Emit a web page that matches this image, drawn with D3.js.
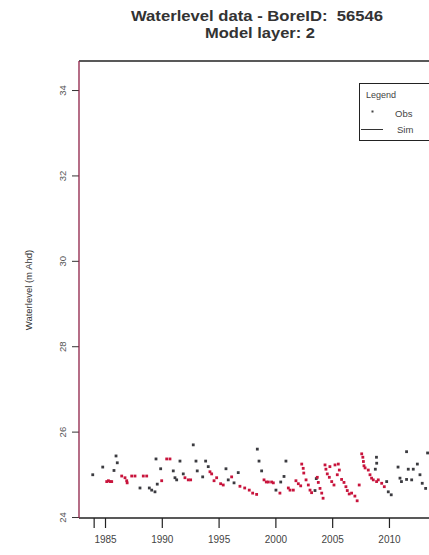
<!DOCTYPE html>
<html>
<head>
<meta charset="utf-8">
<script src="https://cdn.jsdelivr.net/npm/d3@7"></script>
<style>
  html, body { margin: 0; padding: 0; background: #fff; }
  svg { display: block; }
  text { font-family: "Liberation Sans", Arial, sans-serif; fill: #333; }
</style>
</head>
<body>
<svg id="chart" width="429" height="555"></svg>
<script>
// ---- data ----
const titleLines = ["Waterlevel data - BoreID:  56546", "Model layer: 2"];
const yLabel = "Waterlevel (m Ahd)";
const xTickValues = [1984, 1985, 1990, 1995, 2000, 2005, 2010];
const xTickLabels = ["", "1985", "1990", "1995", "2000", "2005", "2010"];
const yTickValues = [24, 26, 28, 30, 32, 34];
const legendTitle = "Legend";
const legendItems = ["Obs", "Sim"];

// observed points drawn dark (isolated readings) : [year, level]
const obsDark = [
  [1983.92, 24.99], [1984.80, 25.17], [1985.79, 25.09], [1985.97, 25.43], [1986.08, 25.27],
  [1988.08, 24.68], [1988.90, 24.68], [1989.11, 24.63], [1989.40, 24.59], [1989.49, 25.36],
  [1989.60, 24.77], [1989.90, 25.13], [1991.01, 25.08], [1991.16, 24.92], [1991.31, 24.87],
  [1991.60, 25.31], [1991.89, 25.01], [1992.77, 25.69], [1993.01, 25.31], [1993.12, 25.08],
  [1993.60, 24.94], [1993.86, 25.31], [1994.09, 25.18], [1995.65, 25.13], [1995.85, 24.87],
  [1996.36, 24.80], [1996.73, 25.04], [1998.41, 25.59], [1998.56, 25.31], [1998.79, 25.08],
  [2000.05, 24.63], [2000.47, 24.82], [2000.76, 24.95], [2000.93, 25.31], [2003.49, 24.62],
  [2003.60, 24.90], [2008.80, 25.12], [2008.90, 25.40], [2008.92, 25.26], [2009.80, 24.83],
  [2009.94, 24.59], [2010.20, 24.52], [2010.80, 25.17], [2010.97, 24.91], [2011.10, 24.83],
  [2011.55, 25.53], [2011.55, 24.88], [2011.70, 25.12], [2012.00, 24.87], [2012.14, 25.12],
  [2012.50, 25.24], [2012.73, 24.99], [2012.93, 24.79], [2013.23, 24.67], [2013.40, 25.50]
];
// observed points drawn red (dense runs of readings) : [year, level]
const obsRed = [
  [1985.15, 24.83], [1985.30, 24.85], [1985.45, 24.83], [1985.59, 24.83],
  [1986.47, 24.96], [1986.76, 24.92], [1986.91, 24.85], [1986.95, 24.80],
  [1987.35, 24.96], [1987.64, 24.96], [1988.37, 24.96], [1988.67, 24.96], [1989.99, 24.85],
  [1990.43, 25.36], [1990.72, 25.36], [1992.04, 24.92], [1992.33, 24.87], [1992.54, 24.87],
  [1994.24, 25.06], [1994.39, 25.01], [1994.60, 24.85], [1994.83, 24.92],
  [1995.18, 24.78], [1995.41, 24.75], [1996.15, 24.94],
  [1996.88, 24.72], [1997.30, 24.68], [1997.70, 24.63], [1998.00, 24.56], [1998.35, 24.53],
  [1999.00, 24.87], [1999.20, 24.82], [1999.38, 24.82], [1999.67, 24.82], [1999.82, 24.80],
  [2000.40, 24.56], [2001.14, 24.68], [2001.29, 24.63], [2001.58, 24.63],
  [2001.81, 24.85], [2002.02, 24.78], [2002.23, 24.73],
  [2002.32, 25.24], [2002.45, 25.14], [2002.50, 25.03], [2002.70, 24.87], [2002.90, 24.75],
  [2003.05, 24.63], [2003.19, 24.57],
  [2003.69, 24.93], [2003.78, 24.81], [2003.93, 24.67], [2004.08, 24.56], [2004.20, 24.44],
  [2004.37, 25.22], [2004.45, 25.12], [2004.57, 25.01], [2004.75, 24.93], [2004.80, 25.18],
  [2004.96, 24.83], [2005.16, 24.75], [2005.25, 25.22], [2005.45, 24.99], [2005.54, 25.24],
  [2005.63, 25.10], [2005.83, 24.88], [2006.04, 24.81], [2006.21, 24.71], [2006.33, 24.62],
  [2006.50, 24.54], [2006.71, 24.56], [2007.00, 24.49], [2007.20, 24.38], [2007.38, 24.75],
  [2007.60, 25.48], [2007.70, 25.40], [2007.75, 25.30], [2007.80, 25.20], [2007.90, 25.15],
  [2008.18, 25.10], [2008.33, 24.99], [2008.47, 24.91], [2008.62, 24.87], [2008.91, 24.83],
  [2009.06, 24.87], [2009.36, 24.79], [2009.59, 24.71]
];

// ---- drawing ----
const svg = d3.select("#chart");
const x = d3.scaleLinear().domain([1982.71, 2014.67]).range([79, 442]);
const y = d3.scaleLinear().domain([23.977, 34.68]).range([518, 61]);

// title
svg.append("text").attr("x", 257).attr("y", 21).attr("text-anchor", "middle")
  .attr("textLength", 252).attr("lengthAdjust", "spacingAndGlyphs")
  .style("white-space", "pre")
  .style("font-weight", "bold").style("font-size", "14.5px").style("fill", "#333")
  .text(titleLines[0]);
svg.append("text").attr("x", 260).attr("y", 38).attr("text-anchor", "middle")
  .attr("textLength", 110).attr("lengthAdjust", "spacingAndGlyphs")
  .style("font-weight", "bold").style("font-size", "14.5px").style("fill", "#333")
  .text(titleLines[1]);

// x axis
const xAxis = svg.append("g").attr("transform", "translate(0,518)")
  .call(d3.axisBottom(x).tickValues(xTickValues)
    .tickFormat((d, i) => xTickLabels[i]).tickSize(10).tickPadding(8));
xAxis.select(".domain").remove();
xAxis.selectAll("line").attr("stroke", "#222").attr("stroke-width", 1.2);
xAxis.selectAll("text").style("font-size", "10px").style("fill", "#444")
  .style("font-family", "'Liberation Sans', Arial, sans-serif");

// y axis
const yAxis = svg.append("g").attr("transform", "translate(79,0)")
  .call(d3.axisLeft(y).tickValues(yTickValues).tickSize(7).tickPadding(0));
yAxis.select(".domain").remove();
yAxis.selectAll("line").attr("stroke", "#333").attr("stroke-width", 1);
yAxis.selectAll("text")
  .attr("x", 0).attr("dy", 0).attr("text-anchor", "middle")
  .attr("transform", "translate(-13,0) rotate(-90)")
  .style("font-size", "9.5px").style("fill", "#555")
  .style("font-family", "'Liberation Sans Narrow', 'Liberation Sans', Arial, sans-serif");

// y label
svg.append("text").attr("transform", "translate(32,290) rotate(-90)")
  .attr("text-anchor", "middle").style("font-size", "9.5px").style("fill", "#333")
  .style("font-family", "'Liberation Sans Narrow', 'Liberation Sans', Arial, sans-serif")
  .text(yLabel);

// points
const sz = 2.8;
svg.append("g").selectAll("rect").data(obsDark).join("rect")
  .attr("x", d => x(d[0]) - sz / 2).attr("y", d => y(d[1]) - sz / 2)
  .attr("width", sz).attr("height", sz).attr("fill", "#3b3b40");
svg.append("g").selectAll("rect").data(obsRed).join("rect")
  .attr("x", d => x(d[0]) - sz / 2).attr("y", d => y(d[1]) - sz / 2)
  .attr("width", sz).attr("height", sz).attr("fill", "#c8143c");

// plot frame
const fx0 = x.range()[0], fx1 = x.range()[1], fy0 = y.range()[1], fy1 = y.range()[0];
svg.append("line").attr("x1", fx0).attr("x2", fx1).attr("y1", fy0).attr("y2", fy0)
  .attr("stroke", "#222").attr("stroke-width", 1.5);
svg.append("line").attr("x1", fx0).attr("x2", fx1).attr("y1", fy1).attr("y2", fy1)
  .attr("stroke", "#222").attr("stroke-width", 1.5);
svg.append("line").attr("x1", fx0).attr("x2", fx0).attr("y1", fy0).attr("y2", fy1)
  .attr("stroke", "#8e2046").attr("stroke-width", 1.3);

// legend
const lg = svg.append("g");
lg.append("rect").attr("x", 359.5).attr("y", 83.5).attr("width", 80).attr("height", 57)
  .attr("fill", "#fff").attr("stroke", "#222").attr("stroke-width", 1);
lg.append("text").attr("x", 381).attr("y", 98).attr("text-anchor", "middle")
  .style("font-size", "9px").style("fill", "#444")
  .style("font-family", "'Liberation Sans Narrow', 'Liberation Sans', Arial, sans-serif")
  .text(legendTitle);
lg.append("rect").attr("x", 371.5).attr("y", 110.5).attr("width", 2).attr("height", 2)
  .attr("fill", "#444");
lg.append("line").attr("x1", 361).attr("x2", 383).attr("y1", 129.5).attr("y2", 129.5)
  .attr("stroke", "#333").attr("stroke-width", 1);
lg.append("text").attr("x", 395).attr("y", 117).style("font-size", "9.5px").style("fill", "#444")
  .style("font-family", "'Liberation Sans Narrow', 'Liberation Sans', Arial, sans-serif")
  .text(legendItems[0]);
lg.append("text").attr("x", 397).attr("y", 133).style("font-size", "9.5px").style("fill", "#444")
  .style("font-family", "'Liberation Sans Narrow', 'Liberation Sans', Arial, sans-serif")
  .text(legendItems[1]);
</script>
</body>
</html>
